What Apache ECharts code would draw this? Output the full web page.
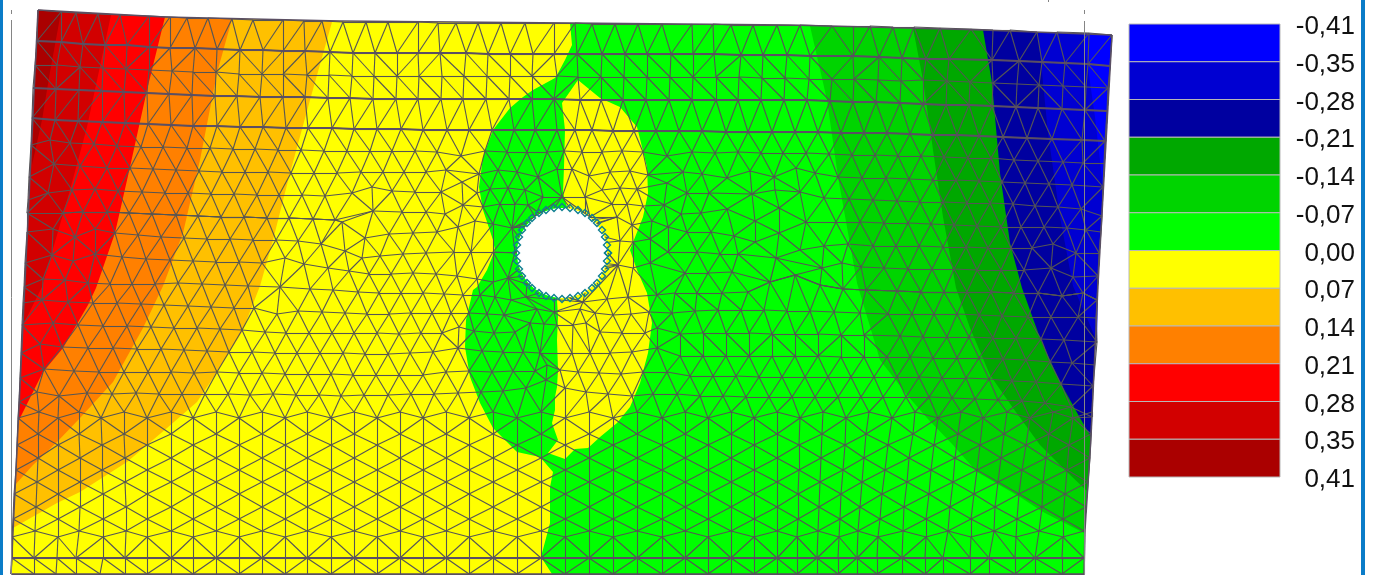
<!DOCTYPE html>
<html>
<head>
<meta charset="utf-8">
<style>html,body{margin:0;padding:0;background:#fff}#chart{width:1376px;height:575px}</style>
<script src="https://cdn.jsdelivr.net/npm/echarts@6/dist/echarts.min.js"></script>
</head>
<body>
<div id="chart"></div>
<script>
// legend
var legendLabels = ['-0,41','-0,35','-0,28','-0,21','-0,14','-0,07','0,00','0,07','0,14','0,21','0,28','0,35','0,41'];
var swatchColors = ['#0000ff','#0000d2','#0000a0','#00a800','#00d400','#00ff00','#ffff00','#ffc000','#ff8000','#ff0000','#d20000','#aa0000'];

// contour bands, painted in this order
var plateOutline = [[38,10],[165,17],[340,21],[570,23],[790,25],[983,30],[1112,35],[1098,285],[1091,437],[1085,530],[1084,574],[11,574]];
var bandAmber = [[38,10],[165,17],[332,22],[310,100],[290,173],[273,240],[260,286],[242,332],[217,372],[197,402],[167,428],[127,462],[80,492],[57,503],[13,528]];
var bandOrange = [[38,10],[165,17],[232,19],[217,73],[200,160],[183,233],[163,286],[143,328],[113,382],[80,418],[57,442],[33,465],[15,485]];
var bandRed = [[38,10],[165,17],[147,90],[130,167],[115,233],[96,288],[88,305],[63,348],[43,372],[18,422]];
var bandRedMid = [[38,10],[111,15],[87,127],[70,190],[42,287],[23,325]];
var bandRedDark = [[38,10],[61,12],[50,72],[42,120],[32,165]];
var bandGreen = [[570,23],[572,45],[565,60],[557,75],[555,78],[533,90],[523,97],[510,108],[493,130],[483,157],[479,187],[483,210],[493,240],[495,250],[487,270],[477,287],[473,290],[466,320],[465,347],[470,377],[480,403],[493,428],[517,452],[540,457],[553,472],[550,487],[550,523],[541,557],[552,574],[1084,574],[1085,530],[1091,437],[1098,285],[1112,35],[983,30],[790,25]];
var lobeYellow = [[578,80],[600,98],[620,107],[637,127],[647,167],[648,193],[643,217],[630,250],[637,270],[647,293],[652,323],[648,353],[640,383],[630,407],[617,423],[600,437],[588,448],[575,449],[565,459],[548,453],[558,440],[552,423],[555,410],[555,397],[557,387],[558,370],[557,340],[558,317],[557,300],[567,207],[563,193],[564,167],[565,130],[562,103]];
var bandGreenMid = [[810,26],[827,100],[838,177],[857,283],[880,360],[907,395],[927,418],[953,445],[977,472],[1020,497],[1043,512],[1084,533],[1085,530],[1091,437],[1098,285],[1112,35],[983,30]];
var bandGreenDark = [[913,28],[923,80],[933,150],[943,217],[956,288],[970,328],[990,375],[1013,408],[1040,445],[1067,472],[1088,492],[1091,437],[1098,285],[1112,35],[983,30]];
var bandBlueDark = [[983,30],[992,83],[1000,173],[1010,243],[1022,288],[1040,338],[1060,382],[1080,418],[1091,437],[1098,285],[1112,35]];
var bandBlueMid = [[1038,32],[1048,133],[1060,217],[1073,286],[1087,318],[1097,342],[1098,285],[1112,35]];
var bandBlue = [[1083,33],[1095,117],[1103,187],[1112,35]];

// shared right ends of the upper mesh rows
var tailR8 = [[806,222],[836,222],[860,222],[884,223],[908,223],[931,224],[954,225],[977,226],[1001,227],[1021,227],[1044,227],[1067,228],[1086,230],[1101,232]];
var tailR9 = [[800,250],[824,246],[848,244],[873,246],[896,246],[919,246],[943,247],[966,247],[988,248],[1011,248],[1032,248],[1053,244],[1076,253],[1099,253]];
var tailR10 = [[822,268],[842,263],[861,267],[884,268],[908,269],[932,269],[954,269],[977,270],[1001,270],[1024,270],[1051,268],[1073,277],[1098,276]];
var tailR10b = [[770,282],[795,275],[820,285],[843,289],[866,290],[897,291],[921,292],[944,292],[967,292],[991,292],[1014,293],[1038,293],[1062,296],[1083,293],[1097,300]];
var leftR8 = [[27,213],[63,213],[83,212],[107,212],[129,213],[152,214],[176,215],[198,216],[221,217],[244,217],[267,218],[289,218],[313,219],[335,220]];

// upper mesh, node rows from top to bottom
var row0 = [[38,10],[61,12],[76,13],[98,14],[120,15],[149,16],[170,17],[187,18],[208,18],[232,19],[253,20],[283,20],[304,21],[322,21],[343,22],[366,22],[388,22],[418,22],[438,23],[456,23],[478,23],[501,23],[525,23],[554,23],[575,23],[592,24],[615,24],[638,24],[662,24],[692,24],[713,24],[731,25],[753,25],[777,25],[800,25],[832,26],[853,26],[870,26],[893,27],[914,27],[940,28],[971,29],[993,30],[1010,30],[1037,32],[1057,32],[1089,33],[1112,35]];
var row1 = [[37,41],[61,42],[83,44],[105,45],[127,45],[149,47],[170,48],[195,48],[217,49],[240,50],[263,50],[283,51],[305,51],[330,52],[353,53],[375,53],[397,53],[418,53],[440,53],[466,53],[488,54],[510,54],[533,54],[554,54],[577,54],[602,54],[625,54],[647,54],[671,54],[693,54],[714,54],[741,55],[763,55],[787,55],[810,56],[853,56],[879,57],[902,58],[926,59],[949,59],[992,60],[1019,61],[1042,62],[1065,63],[1088,64],[1110,66]];
var row2 = [[35,65],[57,65],[80,67],[103,68],[126,69],[149,70],[172,71],[193,72],[216,72],[239,74],[262,74],[283,74],[307,75],[329,75],[352,76],[374,76],[397,76],[419,76],[442,76],[464,76],[487,76],[510,76],[532,76],[557,76],[578,77],[601,77],[624,77],[647,77],[670,77],[693,77],[716,77],[739,77],[762,78],[785,78],[809,79],[832,79],[854,79],[878,80],[901,81],[923,80],[947,81],[970,82],[993,83],[1017,84],[1039,85],[1063,86],[1086,87],[1108,88]];
var row3 = [[33,88],[56,89],[79,90],[102,91],[124,92],[147,93],[169,94],[192,95],[215,96],[237,96],[260,97],[283,97],[305,97],[328,98],[350,98],[373,99],[396,99],[418,99],[441,99],[463,99],[486,99],[509,99],[532,99],[554,99],[580,100],[601,100],[623,100],[646,100],[669,100],[692,100],[716,100],[738,100],[761,100],[784,100],[807,100],[830,101],[853,102],[876,102],[900,103],[923,104],[946,105],[969,105],[992,106],[1016,107],[1038,108],[1062,109],[1085,110],[1107,111]];
var row4 = [[32,118],[55,120],[78,121],[102,122],[125,123],[148,124],[171,125],[193,126],[217,126],[240,127],[263,127],[286,128],[308,128],[332,128],[354,129],[377,129],[401,129],[423,130],[447,130],[469,130],[492,130],[514,130],[535,130],[557,130],[575,130],[592,130],[613,131],[634,131],[656,131],[679,131],[702,131],[726,132],[748,132],[772,132],[795,132],[818,132],[841,133],[864,133],[887,133],[910,134],[933,135],[957,135],[979,136],[1003,137],[1027,138],[1052,139],[1082,140],[1105,141]];
var row5 = [[31,145],[50,140],[70,143],[94,144],[117,146],[141,147],[163,147],[187,148],[210,148],[233,149],[255,149],[278,150],[301,150],[324,151],[347,151],[370,151],[392,151],[415,151],[437,152],[461,156],[485,151],[507,152],[527,152],[547,152],[564,151],[582,152],[602,152],[622,151],[643,152],[667,156],[692,152],[715,153],[738,152],[761,153],[783,153],[806,153],[829,154],[852,155],[875,155],[898,156],[921,156],[944,157],[968,158],[991,158],[1014,160],[1038,161],[1063,162],[1083,163],[1104,163]];
var row6 = [[29,177],[54,164],[80,166],[107,168],[130,168],[153,169],[176,170],[199,171],[222,172],[245,172],[268,172],[291,173],[314,173],[337,173],[361,172],[383,172],[404,172],[426,172],[446,170],[479,174],[498,170],[517,172],[538,177],[557,169],[572,169],[589,176],[610,172],[630,171],[648,175],[683,172],[702,174],[727,178],[750,171],[774,177],[796,168],[815,173],[838,177],[862,178],[886,178],[909,179],[933,180],[956,180],[979,181],[1002,182],[1025,183],[1049,184],[1072,185],[1103,187]];
var row7 = [[28,200],[48,193],[72,190],[95,189],[118,191],[142,192],[165,193],[188,193],[211,194],[234,194],[257,195],[279,195],[302,195],[325,196],[352,193],[372,187],[392,191],[415,192],[441,192],[462,182],[477,193],[490,189],[508,188],[525,190],[543,197],[562,197],[585,197],[602,190],[620,188],[637,189],[667,183],[687,193],[709,193],[752,194],[775,190],[800,192],[824,198],[849,199],[873,200],[897,201],[920,202],[943,202],[967,203],[990,203],[1013,204],[1035,206],[1058,207],[1081,209],[1102,216]];
var row8a = leftR8.concat([[373,211],[402,212],[426,212],[445,214],[463,205],[483,207],[500,204],[515,204],[528,205],[535,217],[590,217],[612,204],[627,204],[643,206],[664,205],[681,214],[701,213],[727,209],[755,221],[779,208]], tailR8);
var row8b = leftR8.concat([[342,222],[365,238],[389,234],[413,233],[437,232],[458,227],[475,221],[493,224],[512,228],[617,217],[632,225],[652,221],[668,227],[687,232],[711,232],[734,236],[755,242],[779,233]], tailR9);
var row9 = [[27,232],[53,229],[75,237],[95,229],[115,233],[138,235],[161,237],[184,238],[207,239],[230,239],[253,240],[276,240],[298,241],[321,244],[345,251],[362,258],[380,256],[403,254],[426,253],[454,252],[471,252],[493,252],[515,252],[620,241],[633,242],[650,239],[668,252],[697,252],[720,254],[738,254],[776,258]].concat(tailR10);
var row10 = [[25,263],[52,255],[73,261],[95,254],[122,257],[146,259],[170,260],[193,261],[216,262],[239,262],[262,263],[285,258],[304,264],[328,268],[349,271],[369,274],[391,274],[413,273],[436,274],[457,276],[477,279],[493,282],[508,278],[618,265],[633,268],[650,263],[685,273],[708,273],[732,272]].concat(tailR10b);
var row10c = [[24,287],[43,279],[65,280],[88,283],[110,284],[132,284],[155,284],[178,283],[202,284],[225,285],[248,286],[280,287],[310,289],[333,290],[358,292],[379,293],[401,293],[423,293],[444,294],[463,295],[480,295],[495,297],[511,300],[526,297],[583,302],[607,299],[628,297],[657,295],[675,293],[697,293],[722,293],[748,292]].concat(tailR10b);
var row11 = [[23,303],[42,300],[68,302],[93,303],[117,303],[141,304],[164,305],[188,306],[211,307],[234,308],[254,308],[277,314],[298,311],[322,312],[345,313],[367,314],[389,314],[411,313],[432,313],[451,313],[469,313],[487,314],[504,315],[537,309],[554,312],[580,309],[595,313],[613,315],[631,314],[649,312],[672,313],[695,311],[718,310],[741,310],[764,310],[787,311],[810,311],[834,312],[860,313],[888,314],[912,314],[934,314],[957,314],[979,315],[1002,316],[1028,317],[1051,317],[1078,317],[1096,318]];
var row12 = [[22,325],[53,323],[78,325],[103,326],[127,326],[151,327],[174,328],[197,328],[220,329],[242,330],[265,332],[286,333],[309,333],[332,333],[354,333],[377,333],[399,334],[421,333],[442,333],[459,327],[474,331],[494,333],[515,332],[530,323],[544,324],[557,325],[573,325],[586,323],[600,332],[622,333],[645,333],[657,328],[680,334],[703,333],[726,333],[749,333],[772,334],[795,334],[818,334],[841,335],[864,335],[900,336],[923,337],[947,337],[969,337],[993,338],[1016,338],[1041,339],[1064,340],[1097,342]];
var row13 = [[21,353],[40,344],[62,347],[88,348],[113,348],[137,349],[161,349],[184,350],[207,351],[229,352],[252,352],[275,353],[297,353],[320,353],[343,353],[365,354],[388,354],[410,353],[433,352],[458,348],[482,351],[503,352],[523,352],[540,353],[572,353],[590,353],[610,353],[632,352],[657,348],[680,356],[703,356],[726,356],[749,356],[772,356],[795,356],[818,356],[841,357],[864,357],[887,357],[910,357],[933,358],[957,358],[979,358],[1003,359],[1026,360],[1050,362],[1072,363],[1095,365]];
var row14 = [[20,378],[44,369],[74,371],[99,372],[124,372],[148,372],[171,372],[194,373],[217,372],[239,373],[262,373],[285,374],[308,374],[331,374],[353,375],[376,375],[399,375],[423,375],[446,372],[469,371],[492,372],[513,371],[535,371],[547,365],[560,370],[578,372],[599,373],[621,374],[643,372],[667,372],[690,376],[713,376],[736,376],[759,377],[782,377],[805,377],[828,377],[851,377],[874,377],[897,377],[919,377],[942,378],[966,378],[989,379],[1012,381],[1036,382],[1061,384],[1093,386]];
var row15 = [[19,402],[37,392],[59,396],[87,393],[112,394],[136,393],[159,394],[182,394],[205,394],[228,394],[250,395],[273,394],[296,395],[319,395],[341,396],[364,395],[388,395],[411,394],[434,394],[458,393],[481,392],[503,391],[526,388],[546,380],[565,388],[586,392],[608,394],[632,396],[653,394],[677,394],[700,396],[723,396],[746,397],[769,397],[792,397],[815,397],[838,397],[861,397],[883,397],[906,397],[929,397],[952,398],[975,399],[998,400],[1022,401],[1045,403],[1071,407],[1092,417]];
var upperRows = [row0,row1,row2,row3,row4,row5,row6,row7,row8a,row8b,row9,row10,row10c,row11,row12,row13,row14,row15];
var beamRows = [row1,row3,row4,[[12,558],[1084,558]]];

// lower mesh, vertical columns left to right; a single number is a straight column
var lowerYA = [412,434,458,482,507,531,558,574];
var lowerYB = [418,445,470,494,519,537,558,574];
var lowerCols = [
  [18,17,16,14,13,12,12,11],[39,38,38,37,36,35,34,34],[58,58,58,58,58,58,57,56],[79,79,80,80,80,79,76,76],
  [101,102,102,103,103,103,103,100],[124,124,125,125,126,126,125,125],147,171,193,216,239,262,285,307,331,354,377,400,423,446,469,493,517,541,565,589,613,637,662,685,708,731,754,777,
  [800,799,799,798,798,797,797,797],[823,822,821,820,819,818,817,817],[846,845,843,841,840,839,838,838],[869,866,864,862,860,858,857,857],
  [892,888,885,882,880,878,877,877],[915,913,909,907,904,903,902,902],[938,934,931,929,926,926,925,925],[961,958,955,953,950,948,943,943],
  [983,980,977,974,971,971,970,970],[1007,1004,1001,998,995,994,989,989],[1030,1026,1022,1019,1017,1016,1015,1015],[1053,1049,1046,1043,1042,1039,1035,1035],
  [1073,1069,1067,1065,1063,1063,1062,1062],[1092,1091,1090,1088,1086,1084,1084,1084]
];

// hole in the plate
var holeCentre = [562,253];
var holeRing = [[608,253],[607,261],[605,269],[602,276],[597,283],[592,288],[585,293],[578,296],[570,298],[562,299],[554,298],[546,296],[539,293],[532,288],[527,283],[522,276],[519,269],[517,261],[516,253],[517,245],[519,237],[522,230],[527,223],[532,218],[539,213],[546,210],[554,208],[562,207],[570,208],[578,210],[585,213],[592,218],[597,223],[602,230],[605,237],[607,245],[608,253]];

// page furniture
var frameBars = [[[0,0],[3,0],[3,575],[0,575]],[[1361,0],[1365,0],[1365,575],[1361,575]]];
var guideLines = [[[11,10],[11,14]],[[11,20],[11,575]],[[1084,10],[1084,14]],[[1084,21],[1084,575]],[[1048,0],[1048,2]]];

function lowerNodes(col, k) {
    var ys = k % 2 === 0 ? lowerYB : lowerYA;
    return ys.map(function(y, i) {
        return [typeof col === 'number' ? col : col[i], y];
    });
}

function dist(a, b) {
    return Math.hypot(a[0] - b[0], a[1] - b[1]);
}

// zip two node lists into triangles, always taking the shorter diagonal
function stripSegments(p, q) {
    var segs = [], i = 0, j = 0;
    segs.push([p[0], q[0]]);
    while (i < p.length - 1 || j < q.length - 1) {
        if (j === q.length - 1 || (i < p.length - 1 && dist(p[i + 1], q[j]) < dist(p[i], q[j + 1]))) i++;
        else j++;
        segs.push([p[i], q[j]]);
    }
    return segs;
}

function polySegments(pts) {
    var segs = [];
    for (var i = 0; i < pts.length - 1; i++) segs.push([pts[i], pts[i + 1]]);
    return segs;
}

// tie every second ring node to the closest mesh node outside the hole
function holeSpokes() {
    var segs = [];
    var nodes = upperRows.reduce(function(acc, r) { return acc.concat(r); }, []).filter(function(n) {
        return dist(n, holeCentre) > 52;
    });
    holeRing.forEach(function(ringNode, i) {
        if (i % 2) return;
        var best = nodes[0];
        nodes.forEach(function(n) {
            if (dist(n, ringNode) < dist(best, ringNode)) best = n;
        });
        segs.push([ringNode, best]);
    });
    return segs;
}

function buildMesh() {
    var segs = [], i;
    var cols = lowerCols.map(lowerNodes);
    for (i = 0; i < upperRows.length; i++) {
        segs = segs.concat(polySegments(upperRows[i]));
        if (i < upperRows.length - 1) segs = segs.concat(stripSegments(upperRows[i], upperRows[i + 1]));
    }
    segs = segs.concat(stripSegments(row15, cols.map(function(c) { return c[0]; })));
    for (i = 0; i < cols.length; i++) {
        segs = segs.concat(polySegments(cols[i]));
        if (i < cols.length - 1) {
            segs = segs.concat(i % 2 === 0 ? stripSegments(cols[i + 1], cols[i]) : stripSegments(cols[i], cols[i + 1]));
        }
    }
    return segs.concat(holeSpokes());
}

function polygonSeries(points, color, z) {
    return {
        type: 'custom',
        silent: true,
        z: z,
        clip: false,
        data: [points[0]],
        renderItem: function(params, api) {
            return {
                type: 'polygon',
                shape: { points: points.map(function(p) { return api.coord(p); }) },
                style: { fill: color }
            };
        }
    };
}

function segmentSeries(segs, color, width, z) {
    return {
        type: 'lines',
        coordinateSystem: 'cartesian2d',
        silent: true,
        z: z,
        data: segs.map(function(s) { return { coords: s }; }),
        lineStyle: { color: color, width: width, opacity: 1 },
        effect: { show: false }
    };
}

var paints = [
    [plateOutline, 6], [bandAmber, 7], [bandOrange, 8], [bandRed, 9], [bandRedMid, 10], [bandRedDark, 11],
    [bandGreen, 5], [lobeYellow, 6], [bandGreenMid, 4], [bandGreenDark, 3], [bandBlueDark, 2], [bandBlueMid, 1], [bandBlue, 0]
];
var series = paints.map(function(item, i) {
    return polygonSeries(item[0], swatchColors[item[1]], 2 + i * 0.01);
});

series.push(segmentSeries(buildMesh(), '#555555', 1.1, 3));
series.push(segmentSeries(beamRows.reduce(function(acc, r) { return acc.concat(polySegments(r)); }, []), '#5b4f63', 2, 4));
series.push(segmentSeries(polySegments(plateOutline.concat([plateOutline[0]])), '#5b4f63', 1.5, 4));
series.push(segmentSeries(guideLines, '#858585', 1, 5));
frameBars.forEach(function(bar) { series.push(polygonSeries(bar, '#0a7cc8', 7)); });

series.push({
    type: 'scatter',
    silent: true,
    z: 6,
    data: [holeCentre],
    symbol: 'circle',
    symbolSize: 90,
    itemStyle: { color: '#ffffff', opacity: 1 }
});
series.push({
    type: 'scatter',
    silent: true,
    z: 6.5,
    data: holeRing,
    symbol: 'diamond',
    symbolSize: 7,
    itemStyle: { color: 'rgba(0,0,0,0)', borderColor: '#0f7f90', borderWidth: 1.4, opacity: 1 }
});
series.push({
    type: 'custom',
    silent: true,
    xAxisIndex: 1,
    yAxisIndex: 1,
    z: 3,
    data: swatchColors.map(function(c, i) { return [0, i]; }),
    renderItem: function(params, api) {
        var i = params.dataIndex;
        var a = api.coord([0, i]);
        var b = api.coord([1, i + 1]);
        return {
            type: 'rect',
            shape: { x: a[0], y: a[1], width: b[0] - a[0], height: b[1] - a[1] },
            style: { fill: swatchColors[i], stroke: '#b8b8b8', lineWidth: 1 }
        };
    }
});

var chart = echarts.init(document.getElementById('chart'), null, { renderer: 'canvas' });
chart.setOption({
    animation: false,
    backgroundColor: '#ffffff',
    grid: [
        { left: 0, top: 0, width: 1376, height: 575 },
        { left: 1129, top: 24, width: 151, height: 453 },
        // labels sit a little lower than the swatch edges
        { left: 1129, top: 27, width: 151, height: 453 }
    ],
    xAxis: [
        { type: 'value', min: 0, max: 1376, show: false },
        { type: 'value', gridIndex: 1, min: 0, max: 1, show: false },
        { type: 'value', gridIndex: 2, min: 0, max: 1, show: false }
    ],
    yAxis: [
        { type: 'value', min: 0, max: 575, inverse: true, show: false },
        { type: 'value', gridIndex: 1, min: 0, max: 12, inverse: true, show: false },
        {
            type: 'value', gridIndex: 2, min: 0, max: 12, interval: 1, inverse: true, position: 'right',
            axisLine: { show: false },
            axisTick: { show: false },
            splitLine: { show: false },
            axisLabel: {
                color: '#111111',
                fontFamily: '"Liberation Sans", Arial, sans-serif',
                fontSize: 26,
                align: 'right',
                margin: 75,
                formatter: function(v) { return legendLabels[v]; }
            }
        }
    ],
    series: series
});
</script>
</body>
</html>
